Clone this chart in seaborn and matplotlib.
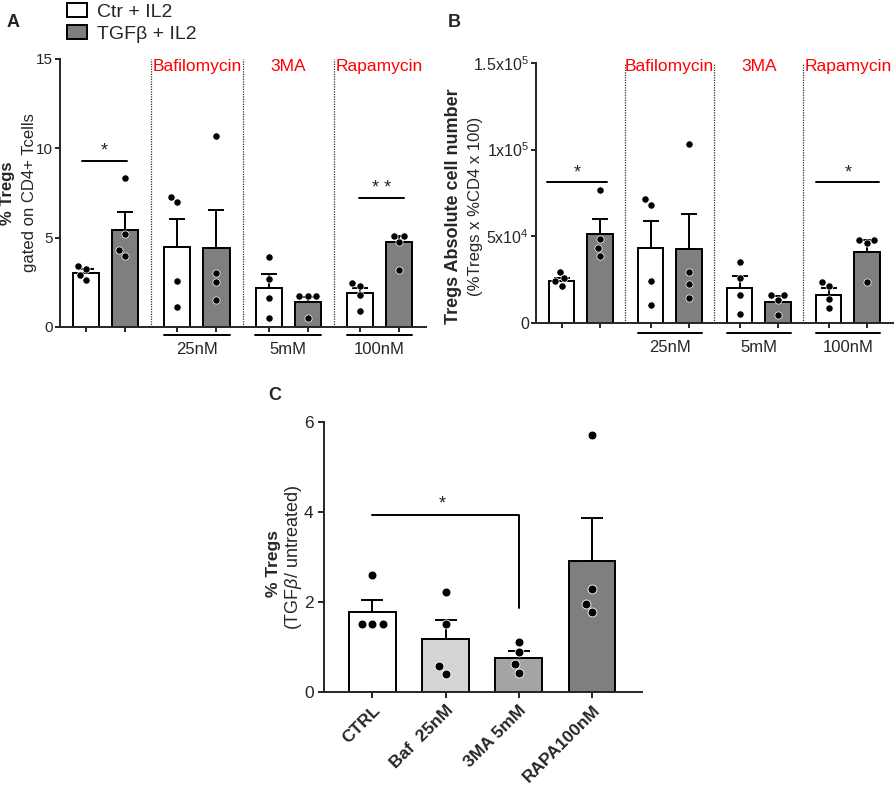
import numpy as np
import pandas as pd
import seaborn as sns
import matplotlib.pyplot as plt

sns.set_style('ticks')
plt.rcParams['font.family'] = ['Liberation Sans', 'DejaVu Sans']
plt.rcParams['mathtext.fontset'] = 'custom'
plt.rcParams['mathtext.rm'] = 'Liberation Sans'
plt.rcParams['mathtext.it'] = 'Liberation Sans:italic'

treat = ['Ctr + IL2', 'TGFβ + IL2']
drugs = ['Bafilomycin', '3MA', 'Rapamycin']
doses = ['25nM', '5mM', '100nM']

# panel A: % Tregs gated on CD4+ (ctr, tgf) x (none, baf, 3MA, rapa)
a_mean = [3.02, 5.43, 4.48, 4.40, 2.18, 1.42, 1.92, 4.77]
a_sem = [0.20, 1.02, 1.58, 2.15, 0.77, 0.23, 0.24, 0.32]
a_pts = [[3.41, 3.25, 2.91, 2.63], [8.32, 5.2, 4.3, 3.99],
         [7.0, 7.3, 2.6, 1.1], [10.7, 3.0, 2.5, 1.5],
         [3.93, 2.7, 1.6, 0.49], [1.73, 1.73, 1.73, 0.49],
         [2.48, 2.32, 1.79, 0.92], [5.11, 5.11, 4.77, 3.19]]

# panel B: Tregs absolute cell number
b_mean = [24400, 51200, 43400, 42500, 20200, 12300, 16200, 41100]
b_sem = [1600, 8800, 15600, 20400, 6900, 3300, 4000, 6800]
b_pts = [[29600, 25800, 24000, 21500], [76700, 48500, 43100, 38700],
         [68100, 71500, 24200, 10200], [103300, 29600, 22300, 14600],
         [35000, 26000, 16000, 5000], [16200, 16200, 13300, 4600],
         [23800, 21300, 13800, 8500], [47900, 47900, 46000, 23800]]

# panel C: ratio TGFb / untreated
c_labels = ['CTRL', 'Baf  25nM', '3MA 5mM', 'RAPA100nM']
c_mean = [1.78, 1.19, 0.77, 2.92]
c_sem = [0.27, 0.43, 0.15, 0.96]
c_pts = [[2.61, 1.52, 1.52, 1.52], [2.24, 1.53, 0.58, 0.42],
         [1.12, 0.9, 0.64, 0.44], [5.72, 2.29, 1.96, 1.79]]

LW = 1.4
pal = {treat[0]: 'white', treat[1]: '#7f7f7f'}
pos = [g * (2 + 1 / 3) + h for g in range(4) for h in range(2)]
centers = [g * (2 + 1 / 3) + 0.5 for g in range(1, 4)]

fig = plt.figure(figsize=(8.95, 7.86), dpi=100)
ax_a = fig.add_axes([0.067, 0.584, 0.409, 0.341])
ax_b = fig.add_axes([0.599, 0.589, 0.399, 0.331])
ax_c = fig.add_axes([0.362, 0.119, 0.355, 0.3435])


def paired_panel(ax, means, sems, pts, ymax, dose_y, lab_y):
    bars = pd.DataFrame({'pos': pos, 'val': means, 'treat': treat * 4})
    sns.barplot(data=bars, x='pos', y='val', hue='treat', palette=pal,
                native_scale=True, width=0.67, errorbar=None,
                edgecolor='black', linewidth=LW, legend=False, ax=ax)
    ax.errorbar(pos, means, yerr=[np.zeros(len(means)), sems], fmt='none',
                ecolor='black', elinewidth=LW, capsize=6, capthick=LW, zorder=3)
    dots = pd.DataFrame({'pos': np.repeat(pos, 4), 'val': np.concatenate(pts)})
    sns.swarmplot(data=dots, x='pos', y='val', native_scale=True, color='black',
                  size=5.2, edgecolor='white', linewidth=0.5, ax=ax, zorder=4)
    ax.set_xlim(-0.667, 8.69)
    ax.set_ylim(0, ymax)
    ax.set_xticks(pos, [''] * 8)
    ax.set_xlabel('')
    ax.set_ylabel('')
    for x in [1.667, 4.0, 6.333]:
        ax.axvline(x, color='#333333', ls=(0, (1, 1)), lw=0.9)
    trans = ax.get_xaxis_transform()
    for cx, d, dose in zip(centers, drugs, doses):
        ax.text(cx, lab_y, d, color='red', fontsize=12.5, ha='center', va='center',
                transform=trans)
        ax.plot([cx - 0.84, cx + 0.84], [dose_y, dose_y], color='black', lw=LW,
                transform=trans, clip_on=False)
        ax.text(cx, dose_y - 0.055, dose, fontsize=12, ha='center', va='center',
                transform=trans)
    ax.tick_params(length=3.5, width=LW, labelsize=11)
    ax.tick_params(axis='y', pad=1.5)
    sns.despine(ax=ax)
    for s in ['left', 'bottom']:
        ax.spines[s].set_linewidth(LW)


# ---- A
paired_panel(ax_a, a_mean, a_sem, a_pts, 15, -0.03, 0.97)
ax_a.set_yticks([0, 5, 10, 15])
ax_a.plot([-0.1, 1.05], [9.3, 9.3], color='black', lw=LW)
ax_a.text(0.475, 9.35, '*', ha='center', va='bottom', fontsize=13)
ax_a.plot([6.97, 8.13], [7.23, 7.23], color='black', lw=LW)
ax_a.text(7.55, 7.28, '* *', ha='center', va='bottom', fontsize=13)
ax_a.text(-0.143, 0.5, '% Tregs', rotation=90, fontsize=12, fontweight='bold',
          ha='center', va='center', transform=ax_a.transAxes)
ax_a.text(-0.082, 0.5, 'gated on CD4+ Tcells', rotation=90, fontsize=12,
          ha='center', va='center', transform=ax_a.transAxes)

# ---- B
paired_panel(ax_b, b_mean, b_sem, b_pts, 150000, -0.038, 0.985)
ax_b.set_yticks([0, 50000, 100000, 150000],
                ['0', '5x10$^4$', '1x10$^5$', '1.5x10$^5$'])
ax_b.tick_params(axis='y', labelsize=11.5)
ax_b.plot([-0.39, 1.2], [81200, 81200], color='black', lw=LW)
ax_b.text(0.4, 81800, '*', ha='center', va='bottom', fontsize=13)
ax_b.plot([6.68, 8.31], [81200, 81200], color='black', lw=LW)
ax_b.text(7.5, 81800, '*', ha='center', va='bottom', fontsize=13)
ax_b.text(-0.232, 0.45, 'Tregs Absolute cell number', rotation=90, fontsize=13,
          fontweight='bold', ha='center', va='center', transform=ax_b.transAxes)
ax_b.text(-0.171, 0.45, '(%Tregs x %CD4 x 100)', rotation=90, fontsize=12,
          ha='center', va='center', transform=ax_b.transAxes)

# ---- C
c_colors = ['white', '#d4d4d4', '#a3a3a8', '#7f7f7f']
sns.barplot(x=c_labels, y=c_mean, hue=c_labels, palette=c_colors, width=0.64,
            errorbar=None, edgecolor='black', linewidth=LW, legend=False, ax=ax_c)
ax_c.errorbar(range(4), c_mean, yerr=[np.zeros(4), c_sem], fmt='none',
              ecolor='black', elinewidth=LW, capsize=8, capthick=LW, zorder=3)
cdots = pd.DataFrame({'grp': np.repeat(c_labels, 4), 'val': np.concatenate(c_pts)})
sns.swarmplot(data=cdots, x='grp', y='val', order=c_labels, color='black', size=6.4,
              edgecolor='white', linewidth=0.6, ax=ax_c, zorder=4)
ax_c.set_xlim(-0.66, 3.68)
ax_c.set_ylim(0, 6)
ax_c.set_yticks([0, 2, 4, 6])
ax_c.set_xlabel('')
ax_c.set_ylabel('')
ax_c.set_xticks(range(4))
ax_c.set_xticklabels(c_labels, rotation=45, ha='right', rotation_mode='anchor',
                     fontweight='bold', fontsize=12.5)
ax_c.tick_params(length=4, width=LW, labelsize=12.5)
ax_c.plot([0, 2, 2], [3.95, 3.95, 1.87], color='black', lw=LW)
ax_c.text(0.96, 4.0, '*', ha='center', va='bottom', fontsize=13)
ax_c.text(-0.16, 0.479, '% Tregs', rotation=90, fontsize=12.5, fontweight='bold',
          ha='center', va='center', transform=ax_c.transAxes)
ax_c.text(-0.097, 0.5, '(TGF$\\beta$/ untreated)', rotation=90, fontsize=13,
          ha='center', va='center', transform=ax_c.transAxes)
sns.despine(ax=ax_c)
for s in ['left', 'bottom']:
    ax_c.spines[s].set_linewidth(LW)

# legend
handles = [plt.Rectangle((0, 0), 1, 1, facecolor=pal[t], edgecolor='black', lw=LW)
           for t in treat]
fig.legend(handles, treat, loc='upper left', bbox_to_anchor=(0.072, 1.0),
           frameon=False, fontsize=14, handlelength=1.0, handleheight=0.75,
           handletextpad=0.55, labelspacing=0.2, borderpad=0.15, borderaxespad=0)

for lab, x, y in [('A', 0.0145, 0.972), ('B', 0.508, 0.972), ('C', 0.307, 0.497)]:
    fig.text(x, y, lab, fontsize=13, fontweight='bold', ha='center', va='center')

fig.savefig('out.png', dpi=100)
